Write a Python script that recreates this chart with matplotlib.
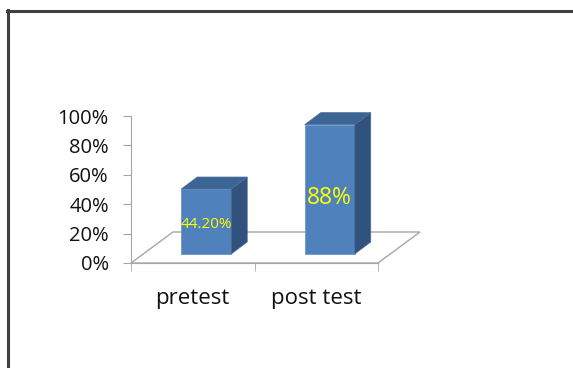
import matplotlib
matplotlib.use("Agg")
import matplotlib.pyplot as plt
from matplotlib.patches import Polygon
from matplotlib.lines import Line2D

# data
categories = ["pretest", "post test"]
values = [44.2, 88.0]
value_labels = ["44.20%", "88%"]
yticks = [0, 20, 40, 60, 80, 100]

plt.rcParams['font.family'] = ['Open Sans', 'DejaVu Sans']

W, H = 573, 368
fig = plt.figure(figsize=(W / 100, H / 100), dpi=100)

# axes placed so the left spine sits at x=131px, floor front at y=263px
ax = fig.add_axes([131 / W, (H - 263) / H, 247 / W, 147 / H])
ax.set_xlim(-0.5, 1.5)
ax.set_ylim(0, 100)

grey = "#a6a6a6"
front_c = "#4f81bd"
side_c = "#30527c"
top_c = "#3c6494"

px_x = 247 / 2.0   # pixels per category unit
px_y = 147 / 100.0  # pixels per percent

# floor (3-D depth) in data units
fdx, fdy = 42 / px_x, 31 / px_y
floor = Polygon([(-0.5, 0), (-0.5 + fdx, fdy), (1.5 + fdx, fdy), (1.5, 0)],
                closed=True, facecolor="white", edgecolor=grey, lw=1.0,
                clip_on=False, zorder=1)
ax.add_patch(floor)

# bars sit part way into the floor
base = 9 / px_y
shift = 13.5 / px_x
bw = 50 / px_x
ddx, ddy = 16 / px_x, 12 / px_y

xs = [i + shift for i in range(len(values))]
ax.bar(xs, values, width=bw, bottom=base, color=front_c, edgecolor="#6f97c8",
       lw=0.6, zorder=3, clip_on=False)

for x, v in zip(xs, values):
    l, r = x - bw / 2, x + bw / 2
    top = base + v
    ax.add_patch(Polygon([(r, base), (r + ddx, base + ddy), (r + ddx, top + ddy), (r, top)],
                         facecolor=side_c, edgecolor="#4a6f9c", lw=0.5, clip_on=False, zorder=3))
    ax.add_patch(Polygon([(l, top), (l + ddx, top + ddy), (r + ddx, top + ddy), (r, top)],
                         facecolor=top_c, edgecolor="#4a6f9c", lw=0.5, clip_on=False, zorder=3))

for x, v, lab, fs, dy in zip(xs, values, value_labels, [11, 16.5], [-2, -6]):
    ax.annotate(lab, (x, base + v / 2), xytext=(0, dy), textcoords="offset points",
                ha="center", va="center", color="#ffff00", fontsize=fs, zorder=5)

# axes styling
for s in ["top", "right"]:
    ax.spines[s].set_visible(False)
ax.spines["left"].set_color(grey)
ax.spines["bottom"].set_color(grey)
ax.spines["left"].set_zorder(2)
ax.spines["bottom"].set_zorder(2)

ax.set_yticks(yticks)
ax.set_yticklabels([f"{t}%" for t in yticks])
ax.tick_params(axis="y", length=6, color=grey, labelsize=14.5, pad=10,
               labelcolor="#111111")

ax.set_xticks(range(len(categories)))
ax.set_xticklabels(categories)
ax.tick_params(axis="x", which="major", length=0, labelsize=16, pad=18,
               labelcolor="#111111")
ax.set_xticks([-0.5, 0.5, 1.5], minor=True)
ax.tick_params(axis="x", which="minor", length=6, color=grey)
ax.patch.set_visible(False)

# outer frame (left and top only)
fig.add_artist(Line2D([8 / W, 8 / W], [0, 1 - 10 / H], color="#404040", lw=2.2))
fig.add_artist(Line2D([7 / W, 1], [1 - 10.5 / H, 1 - 10.5 / H], color="#404040", lw=2.2))

fig.savefig("out.png", dpi=100)
